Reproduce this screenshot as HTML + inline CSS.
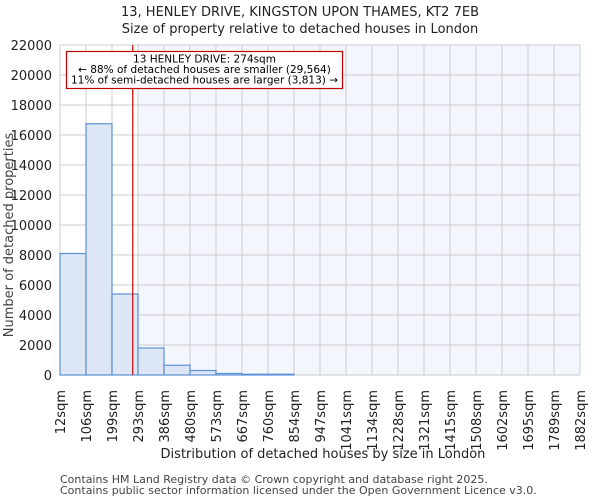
<!DOCTYPE html>
<html><head><meta charset="utf-8"><style>
body{margin:0;background:#fff;font-family:"DejaVu Sans","Liberation Sans",sans-serif}
text{font-family:"DejaVu Sans","Liberation Sans",sans-serif}
</style></head><body>
<svg id="c" width="600" height="500"></svg>
<script>
const binLabels=["12sqm","106sqm","199sqm","293sqm","386sqm","480sqm","573sqm","667sqm","760sqm","854sqm","947sqm","1041sqm","1134sqm","1228sqm","1321sqm","1415sqm","1508sqm","1602sqm","1695sqm","1789sqm","1882sqm"];
const counts=[8100,16750,5400,1800,650,300,100,50,50,0,0,0,0,0,0,0,0,0,0,0];
const yTicks=[0,2000,4000,6000,8000,10000,12000,14000,16000,18000,20000,22000];
const markerValue=274;
const L=60,R=580,T=45,B=375,yMax=22000;
const svg=document.getElementById('c');
const NS='http://www.w3.org/2000/svg';
function el(t,a,txt){const e=document.createElementNS(NS,t);for(const k in a)e.setAttribute(k,a[k]);if(txt!=null)e.textContent=txt;svg.appendChild(e);return e;}
const nb=counts.length,bw=(R-L)/nb;
const edges=binLabels.map(s=>parseFloat(s));
const x=i=>L+i*bw;
const y=v=>B-v/yMax*(B-T);
function xv(v){for(let i=0;i<nb;i++){if(v<=edges[i+1])return x(i)+(v-edges[i])/(edges[i+1]-edges[i])*bw;}return R;}
const mx=xv(markerValue);
let shadeBin=0;while(shadeBin<nb&&edges[shadeBin]<markerValue)shadeBin++;
let e=el('rect',{x:x(shadeBin),y:T,width:R-x(shadeBin),height:B-T,fill:'#f3f6fd'});


yTicks.forEach(t=>{
 let g=el('line',{x1:L,x2:R,y1:y(t),y2:y(t),stroke:'#cccccc','stroke-width':1});
 
 
 let tx=el('text',{x:L-8,y:y(t)+5,'text-anchor':'end','font-size':13,fill:'#222'},t);
 
 
});
binLabels.forEach((lb,i)=>{
 let g=el('line',{x1:x(i),x2:x(i),y1:T,y2:B,stroke:'#cccccc','stroke-width':1});
 
 
 let tx=el('text',{x:0,y:0,'text-anchor':'end','font-size':13,fill:'#222',transform:`translate(${x(i)+5},390) rotate(-90)`},lb);
 
 
});
counts.forEach((c,i)=>{
 if(c<=0)return;
 let b=el('rect',{x:x(i),y:y(c),width:bw,height:B-y(c),fill:'#dce6f4',stroke:'#5a8fd6','stroke-width':1.2});
 
 
});
e=el('line',{x1:mx,x2:mx,y1:T,y2:B,stroke:'#c00000','stroke-width':1.2});


e=el('rect',{x:66.5,y:51.5,width:276,height:37,fill:'#fff',stroke:'#c00000','stroke-width':1.2});


[["13 HENLEY DRIVE: 274sqm",62.5],["← 88% of detached houses are smaller (29,564)",73],["11% of semi-detached houses are larger (3,813) →",83.5]].forEach(([t,yy])=>{
 let a=el('text',{x:204.5,y:yy,'text-anchor':'middle','font-size':10.5,fill:'#000'},t);
 
 
});
e=el('text',{x:300,y:16,'text-anchor':'middle','font-size':13,fill:'#222'},'13, HENLEY DRIVE, KINGSTON UPON THAMES, KT2 7EB');


e=el('text',{x:300,y:33,'text-anchor':'middle','font-size':13,fill:'#222'},'Size of property relative to detached houses in London');


e=el('text',{x:0,y:0,'text-anchor':'middle','font-size':13,fill:'#444',transform:'translate(13,235) rotate(-90)'},'Number of detached properties');


e=el('text',{x:323,y:458,'text-anchor':'middle','font-size':13,fill:'#222'},'Distribution of detached houses by size in London');


e=el('text',{x:60,y:483,'font-size':11,fill:'#444'},'Contains HM Land Registry data © Crown copyright and database right 2025.');


e=el('text',{x:60,y:494,'font-size':11,fill:'#444'},'Contains public sector information licensed under the Open Government Licence v3.0.');


</script>
</body></html>
